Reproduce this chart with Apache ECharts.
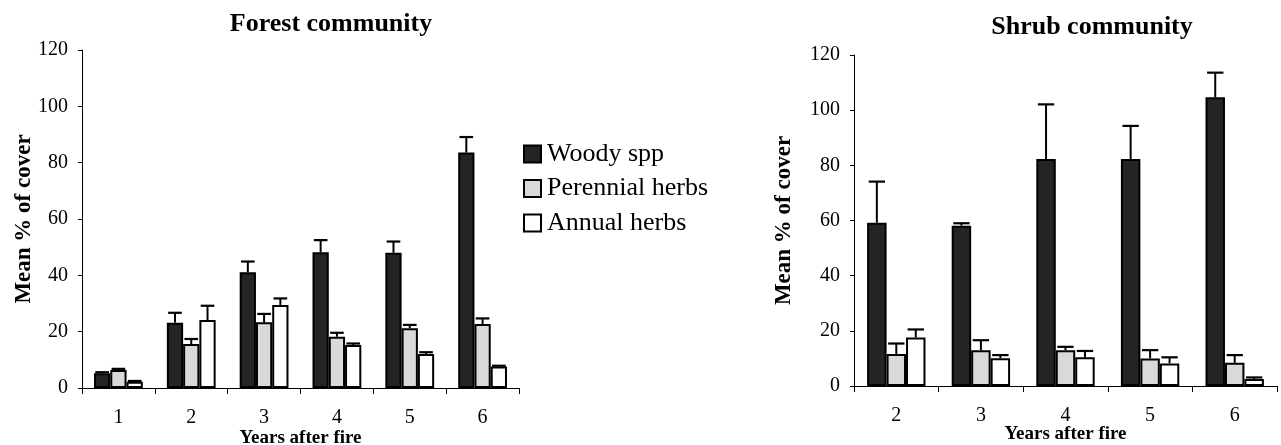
<!DOCTYPE html>
<html>
<head>
<meta charset="utf-8">
<script src="https://cdn.jsdelivr.net/npm/echarts@6/dist/echarts.min.js"></script>
<style>
html,body{margin:0;padding:0;background:#fff;}
#chart{width:1281px;height:445px;}
</style>
</head>
<body>
<div id="chart"></div>
<script>
// ---- Data ----
const forestYears = ['1','2','3','4','5','6'];
const forestWoody = [5.2, 23.2, 41.1, 48.2, 48.0, 83.6];
const forestWoodyErr = [0.4, 3.5, 3.8, 4.3, 4.0, 5.5];
const forestPerennial = [6.4, 15.6, 23.3, 18.2, 21.2, 22.7];
const forestPerennialErr = [0.4, 1.8, 3.0, 1.4, 1.2, 2.0];
const forestAnnual = [2.2, 24.1, 29.5, 15.3, 12.1, 7.6];
const forestAnnualErr = [0.3, 5.1, 2.3, 0.5, 0.6, 0.3];

const shrubYears = ['2','3','4','5','6'];
const shrubWoody = [59.2, 58.1, 82.3, 82.3, 104.7];
const shrubWoodyErr = [14.9, 0.9, 19.8, 12.0, 8.9];
const shrubPerennial = [11.6, 13.0, 13.0, 10.0, 8.4];
const shrubPerennialErr = [3.8, 3.6, 1.2, 3.0, 2.8];
const shrubAnnual = [17.6, 10.1, 10.4, 8.2, 2.5];
const shrubAnnualErr = [2.9, 1.1, 2.3, 2.2, 0.6];

const seriesNames = ['Woody spp', 'Perennial herbs', 'Annual herbs'];
const yTicks = {min: 0, max: 120, interval: 20};

// ---- Styles ----
const FONT = 'Liberation Serif, Times New Roman, serif';
const fills = ['#242424', '#d9d9d9', '#ffffff'];
const gaps = [0.33, 0.31];

function errRenderer(barIdx, gapFrac) {
  return function (params, api) {
    const x = api.value(0), v = api.value(1), e = api.value(2);
    const base = api.coord([x, v]);
    const top = api.coord([x, v + e]);
    const band = api.size([1, 0])[0];
    const bw = band * (1 - gapFrac) / 3;
    const cx = base[0] + (barIdx - 1) * bw;
    const half = bw * 0.42;
    return {
      type: 'group',
      children: [
        {type: 'line', shape: {x1: cx, y1: base[1], x2: cx, y2: top[1]}, style: {stroke: '#000', lineWidth: 2}},
        {type: 'line', shape: {x1: cx - half, y1: top[1], x2: cx + half, y2: top[1]}, style: {stroke: '#000', lineWidth: 2.2}}
      ]
    };
  };
}

function xAxisCfg(gridIndex, cats, nameGap) {
  return {
    type: 'category', gridIndex: gridIndex, data: cats,
    name: 'Years after fire', nameLocation: 'middle', nameGap: nameGap, nameMoveOverlap: false,
    nameTextStyle: {fontFamily: FONT, fontWeight: 'bold', fontSize: 19, color: '#000'},
    axisLine: {lineStyle: {color: '#000', width: 1}},
    axisTick: {show: true, length: 6, lineStyle: {color: '#000'}},
    axisLabel: {fontFamily: FONT, fontSize: 20, color: '#000', margin: 20}
  };
}
function yAxisCfg(gridIndex, nameGap) {
  return {
    type: 'value', gridIndex: gridIndex, min: yTicks.min, max: yTicks.max, interval: yTicks.interval,
    name: 'Mean % of cover', nameLocation: 'middle', nameGap: nameGap, nameRotate: 90, nameMoveOverlap: false,
    nameTextStyle: {fontFamily: FONT, fontWeight: 'bold', fontSize: 23, color: '#000'},
    axisLine: {show: true, lineStyle: {color: '#000', width: 1}},
    axisTick: {show: true, length: 4, lineStyle: {color: '#000'}},
    splitLine: {show: false},
    axisLabel: {fontFamily: FONT, fontSize: 20, color: '#000', margin: 14}
  };
}

function barSeries(name, idx, gridIdx, data) {
  return {
    name: name, type: 'bar', xAxisIndex: gridIdx, yAxisIndex: gridIdx,
    data: data, barGap: '0%', barCategoryGap: (gaps[gridIdx] * 100) + '%',
    itemStyle: {color: fills[idx], borderColor: '#000', borderWidth: 2},
    emphasis: {disabled: true}, animation: false
  };
}
function errSeries(idx, gridIdx, vals, errs) {
  return {
    name: 'err' + gridIdx + '_' + idx, type: 'custom', xAxisIndex: gridIdx, yAxisIndex: gridIdx,
    renderItem: errRenderer(idx, gaps[gridIdx]),
    data: vals.map((v, i) => [i, v, errs[i]]),
    encode: {x: 0, y: [1, 2]}, z: 3, animation: false, silent: true
  };
}

const option = {
  backgroundColor: '#fff',
  animation: false,
  title: [
    {text: 'Forest community', left: 326, top: 6, textAlign: 'center',
     textStyle: {fontFamily: FONT, fontWeight: 'bold', fontSize: 26, color: '#000'}},
    {text: 'Shrub community', left: 1087, top: 9, textAlign: 'center',
     textStyle: {fontFamily: FONT, fontWeight: 'bold', fontSize: 26, color: '#000'}}
  ],
  legend: {
    data: seriesNames, orient: 'vertical', left: 523, top: 141, padding: 0,
    itemWidth: 17, itemHeight: 17, itemGap: 8.5, icon: 'rect', selectedMode: false,
    textStyle: {fontFamily: FONT, fontSize: 26, color: '#000', padding: [0, 0, 0, 1]}
  },
  grid: [
    {left: 82, top: 50, width: 437, height: 338, containLabel: false, outerBoundsMode: 'none'},
    {left: 854, top: 55, width: 423, height: 331, containLabel: false, outerBoundsMode: 'none'}
  ],
  xAxis: [xAxisCfg(0, forestYears, 41), xAxisCfg(1, shrubYears, 39)],
  yAxis: [yAxisCfg(0, 46), yAxisCfg(1, 58)],
  series: [
    barSeries(seriesNames[0], 0, 0, forestWoody),
    barSeries(seriesNames[1], 1, 0, forestPerennial),
    barSeries(seriesNames[2], 2, 0, forestAnnual),
    errSeries(0, 0, forestWoody, forestWoodyErr),
    errSeries(1, 0, forestPerennial, forestPerennialErr),
    errSeries(2, 0, forestAnnual, forestAnnualErr),
    barSeries(seriesNames[0], 0, 1, shrubWoody),
    barSeries(seriesNames[1], 1, 1, shrubPerennial),
    barSeries(seriesNames[2], 2, 1, shrubAnnual),
    errSeries(0, 1, shrubWoody, shrubWoodyErr),
    errSeries(1, 1, shrubPerennial, shrubPerennialErr),
    errSeries(2, 1, shrubAnnual, shrubAnnualErr)
  ]
};

const chart = echarts.init(document.getElementById('chart'), null, {renderer: 'canvas'});
chart.setOption(option);
</script>
</body>
</html>
